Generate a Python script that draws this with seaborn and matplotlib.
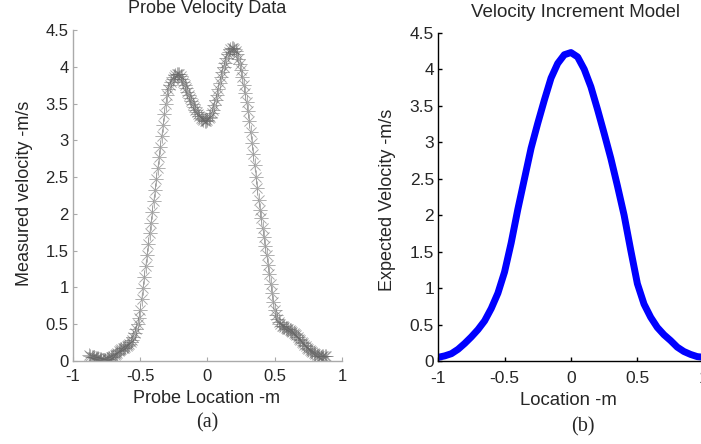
import numpy as np
import matplotlib
matplotlib.use("Agg")
import matplotlib.pyplot as plt
import seaborn as sns

# measured probe velocity, probe locations -0.88 .. 0.88 m every 0.01 m
measured_vel = [
    0.08, 0.07, 0.06, 0.055, 0.05, 0.045, 0.04, 0.035, 0.03, 0.025,
    0.02, 0.02, 0.02, 0.025, 0.03, 0.04, 0.05, 0.06, 0.07, 0.085,
    0.10, 0.115, 0.13, 0.145, 0.16, 0.17, 0.18, 0.19, 0.20, 0.215,
    0.23, 0.26, 0.29, 0.33, 0.38, 0.44, 0.50, 0.59, 0.69, 0.84,
    0.99, 1.14, 1.29, 1.44, 1.59, 1.74, 1.88, 2.03, 2.17, 2.32,
    2.47, 2.62, 2.77, 2.91, 3.06, 3.21, 3.36, 3.50, 3.62, 3.70,
    3.76, 3.80, 3.84, 3.87, 3.89, 3.90, 3.91, 3.91, 3.88, 3.84,
    3.80, 3.76, 3.71, 3.66, 3.62, 3.58, 3.54, 3.50, 3.46, 3.42,
    3.39, 3.36, 3.33, 3.31, 3.29, 3.28, 3.27, 3.27, 3.28, 3.30,
    3.32, 3.37, 3.42, 3.48, 3.55, 3.62, 3.70, 3.78, 3.86, 3.93,
    4.00, 4.06, 4.12, 4.17, 4.21, 4.24, 4.26, 4.26, 4.25, 4.22,
    4.17, 4.11, 4.04, 3.96, 3.86, 3.76, 3.64, 3.52, 3.40, 3.26,
    3.12, 2.97, 2.82, 2.66, 2.50, 2.35, 2.19, 2.06, 1.94, 1.81,
    1.69, 1.56, 1.44, 1.31, 1.18, 1.05, 0.92, 0.80, 0.70, 0.62,
    0.57, 0.53, 0.50, 0.48, 0.47, 0.46, 0.45, 0.44, 0.43, 0.42,
    0.41, 0.395, 0.38, 0.365, 0.35, 0.325, 0.30, 0.28, 0.26, 0.24,
    0.22, 0.20, 0.18, 0.165, 0.15, 0.135, 0.12, 0.105, 0.09, 0.08,
    0.07, 0.065, 0.06, 0.065, 0.07, 0.07, 0.07,
]
probe_loc = np.round(np.linspace(-0.88, 0.88, len(measured_vel)), 2)

# model curve
model_loc = [-1.0, -0.95, -0.9, -0.85, -0.8, -0.75, -0.7, -0.65, -0.6, -0.55,
             -0.5, -0.45, -0.4, -0.35, -0.3, -0.25, -0.2, -0.15, -0.1, -0.05,
             0.0, 0.05, 0.1, 0.15, 0.2, 0.25, 0.3, 0.35, 0.4, 0.45,
             0.5, 0.55, 0.6, 0.65, 0.7, 0.75, 0.8, 0.85, 0.9, 0.95, 1.0]
model_vel = [0.05, 0.07, 0.10, 0.16, 0.24, 0.33, 0.43, 0.55, 0.72, 0.93,
             1.22, 1.62, 2.08, 2.50, 2.92, 3.26, 3.58, 3.88, 4.08, 4.20,
             4.23, 4.17, 4.00, 3.76, 3.45, 3.12, 2.78, 2.40, 2.00, 1.52,
             1.06, 0.78, 0.60, 0.46, 0.36, 0.28, 0.19, 0.13, 0.09, 0.06, 0.05]

xticks = [-1, -0.5, 0, 0.5, 1]
xtick_lbl = ["-1", "-0.5", "0", "0.5", "1"]
yticks = [0, 0.5, 1, 1.5, 2, 2.5, 3, 3.5, 4, 4.5]
ytick_lbl = ["0", "0.5", "1", "1.5", "2", "2.5", "3", "3.5", "4", "4.5"]

sns.set_theme(style="white")
plt.rcParams['font.family'] = ['Liberation Sans', 'DejaVu Sans']

fig = plt.figure(figsize=(7.01, 4.44), dpi=100)

# (a) probe data
ax1 = fig.add_axes([0.104, 0.187, 0.384, 0.745])
sns.lineplot(x=probe_loc, y=measured_vel, ax=ax1, color='#888888', linewidth=0.5,
             marker=(8, 2, 0), markersize=10, markeredgewidth=0.5,
             markeredgecolor='#666666', alpha=0.5, sort=False)
ax1.set_xlim(-1, 1)
ax1.set_ylim(0, 4.5)
ax1.set_xticks(xticks)
ax1.set_xticklabels(xtick_lbl)
ax1.set_yticks(yticks)
ax1.set_yticklabels(ytick_lbl)
for s in ['top', 'right']:
    ax1.spines[s].set_visible(False)
for s in ['left', 'bottom']:
    ax1.spines[s].set_color('#aaaaaa')
    ax1.spines[s].set_linewidth(1.0)
ax1.tick_params(direction='in', length=3, width=0.8, color='#aaaaaa',
                labelsize=12, pad=3, bottom=True, left=True)
ax1.tick_params(axis='x', pad=6)
ax1.set_xlabel('Probe Location -m', fontsize=13)
ax1.xaxis.set_label_coords(0.498, -0.112)
ax1.xaxis.label.set_va('center')
ax1.set_ylabel('Measured velocity -m/s', fontsize=13)
ax1.yaxis.set_label_coords(-0.178, 0.508)
ax1.yaxis.label.set_va('center')
ax1.set_title('Probe Velocity Data', fontsize=13, y=1.066, va='center', pad=0)

# (b) model
ax2 = fig.add_axes([0.625, 0.187, 0.379, 0.739])
sns.lineplot(x=model_loc, y=model_vel, ax=ax2, color='#0000ff', linewidth=5)
ax2.set_xlim(-1, 1)
ax2.set_ylim(0, 4.5)
ax2.set_xticks(xticks)
ax2.set_xticklabels(xtick_lbl)
ax2.set_yticks(yticks)
ax2.set_yticklabels(ytick_lbl)
for s in ['top', 'right']:
    ax2.spines[s].set_visible(False)
for s in ['left', 'bottom']:
    ax2.spines[s].set_color('black')
    ax2.spines[s].set_linewidth(1.0)
ax2.tick_params(direction='in', length=3, width=1, color='black',
                labelsize=12.5, pad=3, bottom=True, left=True)
ax2.tick_params(axis='x', pad=7)
ax2.set_xlabel('Location -m', fontsize=13.4)
ax2.xaxis.set_label_coords(0.489, -0.119)
ax2.xaxis.label.set_va('center')
ax2.set_ylabel('Expected Velocity -m/s', fontsize=13)
ax2.yaxis.set_label_coords(-0.192, 0.49)
ax2.yaxis.label.set_va('center')
ax2.set_title('Velocity Increment Model', fontsize=13.5, x=0.516, y=1.061,
              va='center', pad=0)

fig.text(207 / 701, 1 - 423 / 444, '(a)', ha='center', va='center',
         fontsize=14.5, family=['Liberation Serif', 'DejaVu Serif'])
fig.text(583 / 701, 1 - 427 / 444, '(b)', ha='center', va='center',
         fontsize=14.5, family=['Liberation Serif', 'DejaVu Serif'])

fig.savefig('out.png', dpi=100)
